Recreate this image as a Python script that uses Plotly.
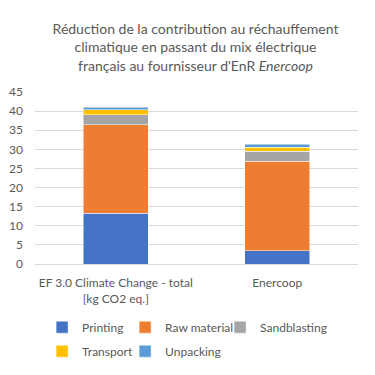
import plotly.graph_objects as go

categories = ["EF 3.0 Climate Change - total<br>[kg CO2 eq.]", "Enercoop"]
printing = [13.3, 3.5]
raw_material = [23.1, 23.4]
sandblasting = [2.7, 2.6]
transport = [1.2, 1.0]
unpacking = [0.7, 0.8]

# (name, values, colour, legend column)
series = [
    ("Printing", printing, "#4472C4", "legend"),
    ("Raw material", raw_material, "#ED7D31", "legend2"),
    ("Sandblasting", sandblasting, "#A5A5A5", "legend3"),
    ("Transport", transport, "#FFC000", "legend"),
    ("Unpacking", unpacking, "#5B9BD5", "legend2"),
]

fig = go.Figure()
for name, vals, color, leg in series:
    fig.add_trace(go.Bar(x=categories, y=vals, name=name, legend=leg, legendgroup=name,
                         marker=dict(color=color, line=dict(color="white", width=0.5))))

font_family = "Lato"
leg_common = dict(orientation="v", y=-0.283, yanchor="top", xanchor="left",
                  font=dict(size=12, color="#595959"), traceorder="grouped",
                  tracegroupgap=5, itemwidth=30, bgcolor="rgba(0,0,0,0)")
fig.update_layout(
    barmode="stack",
    bargap=0.6,
    width=375, height=375,
    paper_bgcolor="white", plot_bgcolor="white",
    margin=dict(l=27, r=25, t=84, b=119, autoexpand=False),
    font=dict(family=font_family, size=12, color="#595959"),
    title=dict(
        text="Réduction de la contribution au réchauffement<br>climatique en passant du mix électrique<br>français au fournisseur d'EnR <i>Enercoop</i>",
        x=0.5, xanchor="center", y=0.93, yanchor="top",
        font=dict(family=font_family, size=14, color="#595959"),
    ),
    yaxis=dict(range=[0, 45], dtick=5, showgrid=True, gridcolor="#D9D9D9", gridwidth=1,
               zeroline=False, tickfont=dict(size=12, color="#595959"), ticks="", ticklabelstandoff=11),
    xaxis=dict(showline=True, linecolor="#D9D9D9", tickfont=dict(size=12, color="#595959"),
               ticklabelstandoff=8),
    legend=dict(x=0.022, **leg_common),
    legend2=dict(x=0.279, **leg_common),
    legend3=dict(x=0.573, **leg_common),
)

fig.write_html("out.html")
